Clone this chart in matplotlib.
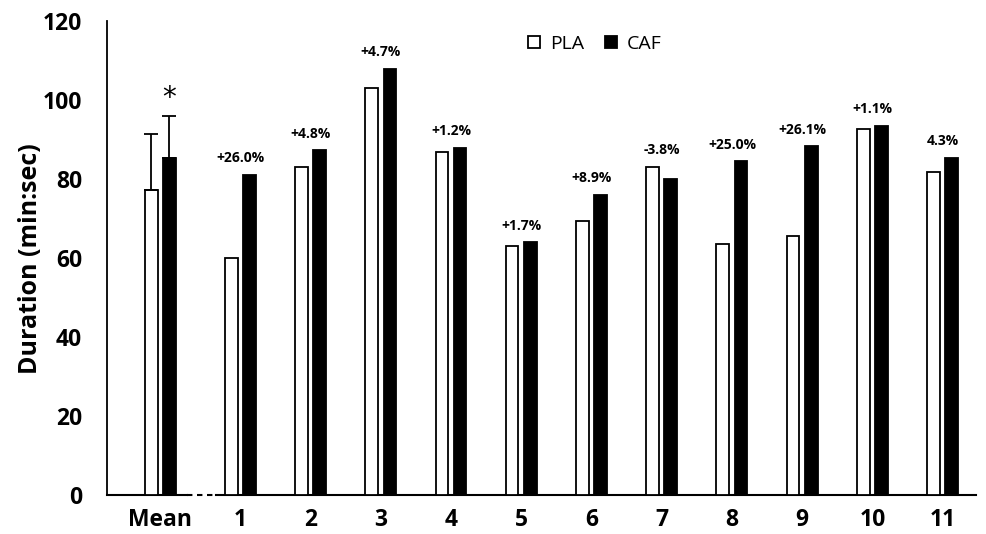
import matplotlib.pyplot as plt
import numpy as np

plt.rcParams['font.family'] = ['Open Sans', 'DejaVu Sans']

groups = ['Mean', '1', '2', '3', '4', '5', '6', '7', '8', '9', '10', '11']
pla = [77.4, 60.0, 83.0, 103.0, 87.0, 63.0, 69.4, 83.2, 63.5, 65.5, 92.8, 81.9]
caf = [85.3, 81.0, 87.3, 108.0, 88.0, 64.0, 76.1, 80.0, 84.5, 88.3, 93.6, 85.5]
pla_err = [14.0, 0, 0, 0, 0, 0, 0, 0, 0, 0, 0, 0]
caf_err = [10.7, 0, 0, 0, 0, 0, 0, 0, 0, 0, 0, 0]
pct = ['', '+26.0%', '+4.8%', '+4.7%', '+1.2%', '+1.7%', '+8.9%', '-3.8%',
       '+25.0%', '+26.1%', '+1.1%', '4.3%']

# mean group sits a little further left than the rest
x = np.array([-0.14] + list(range(1, 12)), dtype=float)
w = 0.18
off = 0.13

fig = plt.figure(figsize=(9.87, 5.34), dpi=100)
ax = fig.add_axes([0.1084, 0.073, 0.88, 0.887])

ax.bar(x - off, pla, w, color='white', edgecolor='black', linewidth=1.3, label='PLA', zorder=2)
ax.bar(x + off, caf, w, color='black', edgecolor='black', linewidth=1.3, label='CAF', zorder=2)

# error bars only for the mean
ax.errorbar(x[0] - off, pla[0], yerr=[[0], [pla_err[0]]], fmt='none', ecolor='black',
            elinewidth=1.3, capsize=5, capthick=1.3, zorder=3)
ax.errorbar(x[0] + off, caf[0], yerr=[[0], [caf_err[0]]], fmt='none', ecolor='black',
            elinewidth=1.3, capsize=5, capthick=1.3, zorder=3)
ax.text(x[0] + off, caf[0] + caf_err[0] + 1.0, '*', ha='center', va='bottom', fontsize=20,
        family='DejaVu Sans')

for xi, p, c, t in zip(x, pla, caf, pct):
    if t:
        ax.text(xi, max(p, c) + 2.5, t, ha='center', va='bottom', fontsize=10, fontweight='bold')

ax.set_xlim(-0.9, 11.47)
ax.set_ylim(0, 120)
ax.set_yticks(range(0, 121, 20))
ax.set_xticks(x)
ax.set_xticklabels(groups)
ax.tick_params(axis='y', length=0, labelsize=16.5, pad=18)
ax.tick_params(axis='x', length=0, labelsize=16.5, pad=9)
for lab in ax.get_xticklabels() + ax.get_yticklabels():
    lab.set_fontweight('bold')
ax.set_ylabel('Duration (min:sec)', fontsize=18, fontweight='bold', labelpad=0)

for s in ['top', 'right', 'bottom']:
    ax.spines[s].set_visible(False)
ax.spines['left'].set_linewidth(1.3)

# broken x axis: solid, dashed, solid
trans = ax.get_xaxis_transform()
ax.plot([-0.9, 0.24], [0, 0], color='black', lw=1.5, transform=trans, clip_on=False, zorder=1)
ax.plot([0.24, 0.65], [0, 0], color='black', lw=1.5, ls=(0, (2.6, 2.2)), transform=trans,
        clip_on=False, zorder=1)
ax.plot([0.65, 11.47], [0, 0], color='black', lw=1.5, transform=trans, clip_on=False, zorder=1)

ax.legend(loc='upper left', bbox_to_anchor=(0.465, 1.008), ncol=2, frameon=False, fontsize=14,
          handlelength=0.6, handleheight=0.6, handletextpad=0.5, columnspacing=1.1)

fig.savefig('out.png', dpi=100)
